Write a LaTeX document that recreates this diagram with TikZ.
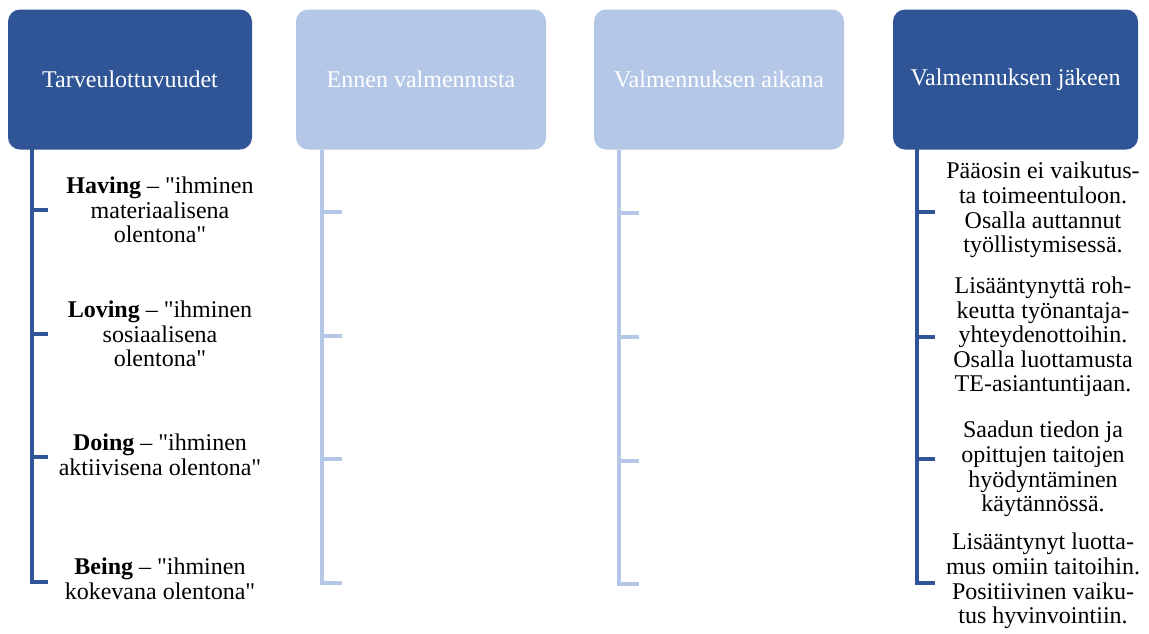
\documentclass[tikz,border=0pt]{standalone}
\usepackage{fontspec}
\setmainfont{Liberation Serif}
\definecolor{darkblue}{RGB}{47,85,151}
\definecolor{lightblue}{RGB}{180,199,231}
\newcommand{\dq}{\textquotedbl}
\begin{document}
\begin{tikzpicture}[x=0.75pt,y=-0.75pt,
  hdr/.style={rounded corners=9pt, minimum height=105pt, text=white,
    font=\fontsize{18}{18.4}\selectfont, inner sep=0pt},
  leaf/.style={align=center, inner sep=0pt, font=\fontsize{18}{18.4}\selectfont},
  darkline/.style={draw=darkblue, line width=3pt},
  lightline/.style={draw=lightblue, line width=3pt}]
\useasboundingbox (0,0) rectangle (1149,633);

% column headers
\node[hdr, fill=darkblue,  minimum width=183pt]   (h1) at (130,79.5)    {Tarveulottuvuudet};
\node[hdr, fill=lightblue, minimum width=187.5pt] (h2) at (421,79.5)    {Ennen valmennusta};
\node[hdr, fill=lightblue, minimum width=187.5pt] (h3) at (719,79.5)    {Valmennuksen aikana};
\node[hdr, fill=darkblue,  minimum width=183.75pt](h4) at (1015.5,79.5) {Valmennuksen jäkeen};

% spine tops and tick ends
\coordinate (s1) at (32,149);
\coordinate (t11) at (48,210);  \coordinate (t12) at (48,334);
\coordinate (t13) at (48,457);  \coordinate (t14) at (48,582);
\coordinate (s2) at (322,150);
\coordinate (t21) at (342,212); \coordinate (t22) at (342,336);
\coordinate (t23) at (342,459); \coordinate (t24) at (342,583);
\coordinate (s3) at (619,150);
\coordinate (t31) at (639,213); \coordinate (t32) at (639,337);
\coordinate (t33) at (639,461); \coordinate (t34) at (639,584);
\coordinate (s4) at (917,149);
\coordinate (t41) at (935,212); \coordinate (t42) at (935,337);
\coordinate (t43) at (935,459); \coordinate (t44) at (935,583);

% connectors
\foreach \i in {1,2,3,4} \draw[darkline]  (s1) |- (t1\i);
\foreach \i in {1,2,3,4} \draw[lightline] (s2) |- (t2\i);
\foreach \i in {1,2,3,4} \draw[lightline] (s3) |- (t3\i);
\foreach \i in {1,2,3,4} \draw[darkline]  (s4) |- (t4\i);

% first column items
\node[leaf] (c11) at (160,210) {\textbf{Having} – \dq ihminen\\materiaalisena\\olentona\dq};
\node[leaf] (c12) at (160,334) {\textbf{Loving} – \dq ihminen\\sosiaalisena\\olentona\dq};
\node[leaf] (c13) at (160,455) {\textbf{Doing} – \dq ihminen\\aktiivisena olentona\dq};
\node[leaf] (c14) at (160,579) {\textbf{Being} – \dq ihminen\\kokevana olentona\dq};

% last column items
\node[leaf] (c41) at (1043,210) {Pääosin ei vaikutus-\\ta toimeentuloon.\\Osalla auttannut\\työllistymisessä.};
\node[leaf] (c42) at (1043,337) {Lisääntynyttä roh-\\keutta työnantaja-\\yhteydenottoihin.\\Osalla luottamusta\\TE-asiantuntijaan.};
\node[leaf] (c43) at (1043,469) {Saadun tiedon ja\\opittujen taitojen\\hyödyntäminen\\käytännössä.};
\node[leaf] (c44) at (1043,581) {Lisääntynyt luotta-\\mus omiin taitoihin.\\Positiivinen vaiku-\\tus hyvinvointiin.};
\end{tikzpicture}
\end{document}
